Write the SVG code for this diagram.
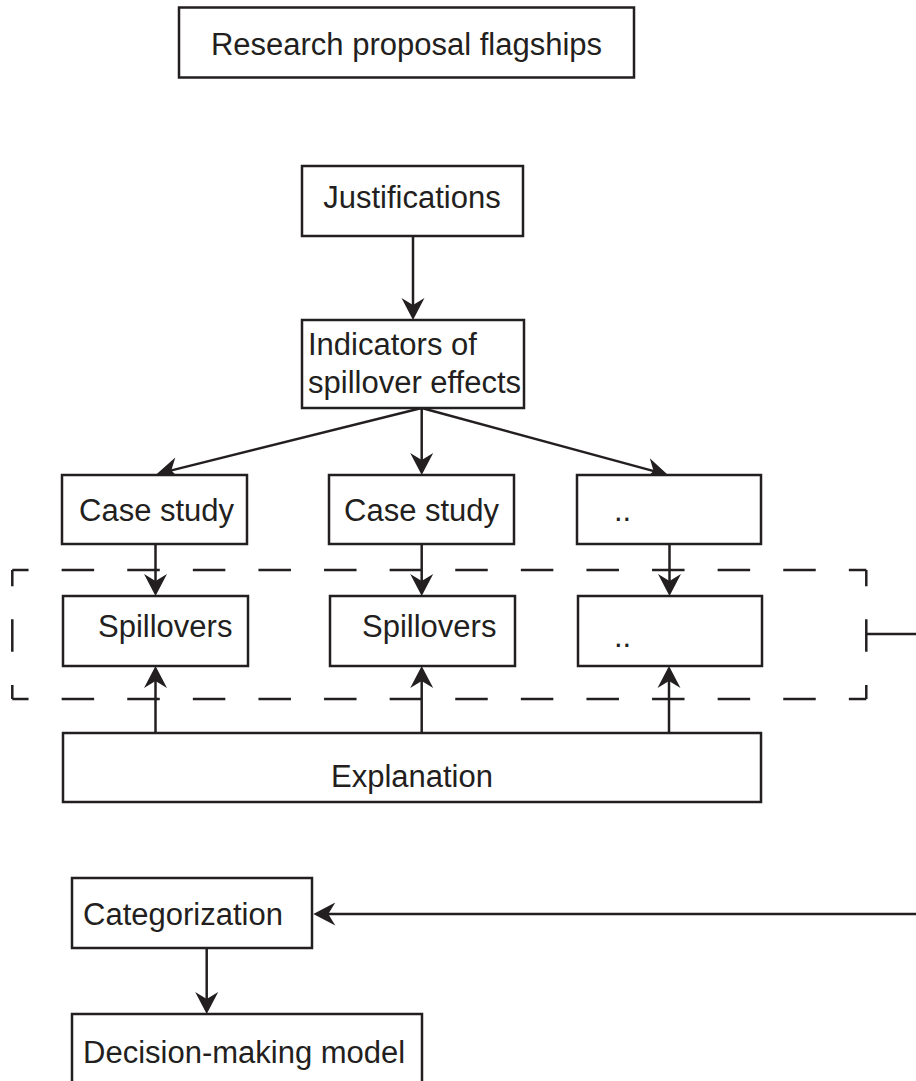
<svg xmlns="http://www.w3.org/2000/svg" width="916" height="1081" viewBox="0 0 916 1081">
<style>
.box{fill:#fff;stroke:#231f20;stroke-width:2.5}
.lbl{font-family:"Liberation Sans",Arial,Helvetica,sans-serif;font-size:31px;fill:#231f20}
.mid{text-anchor:middle}
.con{fill:none;stroke:#231f20;stroke-width:2.5}
.arr{marker-end:url(#ah)}
.dash{fill:none;stroke:#231f20;stroke-width:2.5;stroke-dasharray:32.5 33.1;stroke-dashoffset:16.25}
</style>
<defs>
<marker id="ah" markerUnits="userSpaceOnUse" viewBox="-15 -12 24 24" markerWidth="24" markerHeight="24" refX="0" refY="0" orient="auto">
<path d="M 8 0 L -14 -11.5 L -7 0 L -14 11.5 Z" fill="#231f20"/>
</marker>
</defs>
<rect width="916" height="1081" fill="#fff"/>

<g id="region">
<line class="dash" x1="12.3" y1="570" x2="866.3" y2="570"/>
<line class="dash" x1="12.3" y1="699" x2="866.3" y2="699"/>
<line class="dash" x1="12.3" y1="570" x2="12.3" y2="699"/>
<line class="dash" x1="866.3" y1="570" x2="866.3" y2="699"/>
</g>

<g id="connectors">
<line class="con arr" x1="413" y1="236" x2="413" y2="312"/>
<line class="con arr" x1="421.7" y1="408" x2="421.7" y2="467"/>
<line class="con arr" x1="421.7" y1="408" x2="164.5" y2="472.1"/>
<line class="con arr" x1="421.7" y1="408" x2="660.3" y2="472.9"/>
<line class="con arr" x1="155.5" y1="544" x2="155.5" y2="588"/>
<line class="con arr" x1="421.7" y1="544" x2="421.7" y2="588"/>
<line class="con arr" x1="669.5" y1="544" x2="669.5" y2="588"/>
<line class="con arr" x1="155.5" y1="733" x2="155.5" y2="674"/>
<line class="con arr" x1="421.7" y1="733" x2="421.7" y2="674"/>
<line class="con arr" x1="669" y1="733" x2="669" y2="674"/>
<line class="con" x1="866.3" y1="634" x2="930" y2="634"/>
<line class="con arr" x1="930" y1="914" x2="321.3" y2="914"/>
<line class="con arr" x1="206.7" y1="948" x2="206.7" y2="1006"/>
</g>

<g id="n-research">
<rect class="box" x="179" y="7.5" width="455" height="70"/>
<text class="lbl mid" x="406.5" y="55">Research proposal flagships</text>
</g>
<g id="n-justifications">
<rect class="box" x="302" y="166" width="221" height="70"/>
<text class="lbl mid" x="412" y="208">Justifications</text>
</g>
<g id="n-indicators">
<rect class="box" x="302" y="320" width="222" height="88"/>
<text class="lbl" x="308" y="355">Indicators of</text>
<text class="lbl" x="308" y="393">spillover effects</text>
</g>
<g id="n-case1">
<rect class="box" x="62" y="475" width="185" height="69"/>
<text class="lbl" x="79" y="521">Case study</text>
</g>
<g id="n-case2">
<rect class="box" x="329" y="475" width="185" height="69"/>
<text class="lbl" x="344" y="521">Case study</text>
</g>
<g id="n-case3">
<rect class="box" x="577" y="475" width="184" height="69"/>
<text class="lbl" x="614" y="521">..</text>
</g>
<g id="n-spill1">
<rect class="box" x="63" y="596" width="185" height="70"/>
<text class="lbl" x="98" y="637">Spillovers</text>
</g>
<g id="n-spill2">
<rect class="box" x="330" y="596" width="185" height="70"/>
<text class="lbl" x="362" y="637">Spillovers</text>
</g>
<g id="n-spill3">
<rect class="box" x="578" y="596" width="184" height="70"/>
<text class="lbl" x="614" y="647">..</text>
</g>
<g id="n-explanation">
<rect class="box" x="63" y="733" width="698" height="69"/>
<text class="lbl mid" x="412" y="787">Explanation</text>
</g>
<g id="n-categorization">
<rect class="box" x="72" y="878" width="240" height="70"/>
<text class="lbl" x="83" y="925">Categorization</text>
</g>
<g id="n-decision">
<rect class="box" x="72" y="1014" width="350" height="80"/>
<text class="lbl" x="83" y="1063">Decision-making model</text>
</g>
</svg>
